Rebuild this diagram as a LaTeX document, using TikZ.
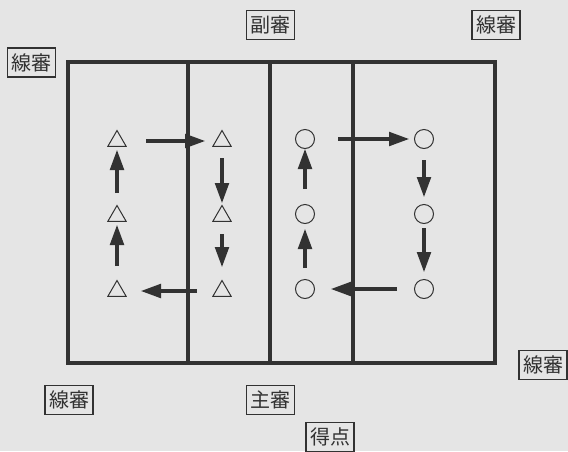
\documentclass[tikz,border=0pt]{standalone}
\usepackage{fontspec}
\newfontfamily\cjk{Noto Sans CJK JP}
\usetikzlibrary{arrows.meta,shapes.geometric}
\definecolor{bg}{RGB}{229,229,229}
\definecolor{ink}{RGB}{50,50,50}
\tikzset{
  lbl/.style={draw=ink, line width=1.1pt, fill=bg, text=ink, font=\cjk\fontsize{20}{20}\selectfont,
    minimum width=48pt, minimum height=29pt, inner sep=1pt},
  tri/.style={regular polygon, regular polygon sides=3, draw=ink, line width=1pt,
    minimum size=21pt, inner sep=0pt},
  circ/.style={circle, draw=ink, line width=1pt, minimum size=19pt, inner sep=0pt},
  mv/.style={draw=ink, line width=4.8pt, -{Triangle[length=21pt,width=13pt]}},
  court/.style={draw=ink, line width=3.8pt}
}
\begin{document}
\begin{tikzpicture}[x=1pt,y=-1pt]
\fill[bg] (0,0) rectangle (568,451);
\useasboundingbox (0,0) rectangle (568,451);
% court
\draw[court] (68,62) rectangle (495,363);
\draw[court] (188,62) -- (188,363);
\draw[court] (270,62) -- (270,363);
\draw[court] (353,62) -- (353,363);
% players
\node[tri] (t1) at (117,141) {};
\node[tri] (t2) at (117,216) {};
\node[tri] (t3) at (117,291) {};
\node[tri] (t4) at (222,141) {};
\node[tri] (t5) at (222,216) {};
\node[tri] (t6) at (222,291) {};
\node[circ] (c1) at (305,139) {};
\node[circ] (c2) at (305,214) {};
\node[circ] (c3) at (305,289) {};
\node[circ] (c4) at (424,139) {};
\node[circ] (c5) at (424,214) {};
\node[circ] (c6) at (424,289) {};
% rotation arrows
\draw[mv, shorten <=29pt, shorten >=16pt] (t1.center) -- (t4.center);
\draw[mv, shorten <=17pt, shorten >=12pt] (t4.center) -- (t5.center);
\draw[mv, shorten <=18pt, shorten >=23pt] (t5.center) -- (t6.center);
\draw[mv, shorten <=25pt, shorten >=23pt] (t6.center) -- (t3.center);
\draw[mv, shorten <=25pt, shorten >=8pt] (t3.center) -- (t2.center);
\draw[mv, shorten <=23pt, shorten >=8pt] (t2.center) -- (t1.center);
\draw[mv, shorten <=33pt, shorten >=14pt] (c1.center) -- (c4.center);
\draw[mv, shorten <=21pt, shorten >=16pt] (c4.center) -- (c5.center);
\draw[mv, shorten <=14pt, shorten >=16pt] (c5.center) -- (c6.center);
\draw[mv, shorten <=27pt, shorten >=25pt] (c6.center) -- (c3.center);
\draw[mv, shorten <=21pt, shorten >=14pt] (c3.center) -- (c2.center);
\draw[mv, shorten <=25pt, shorten >=9pt] (c2.center) -- (c1.center);
% officials
\node[lbl] (ln1) at (31.5,62.5) {線審};
\node[lbl] (sub) at (270.5,25) {副審};
\node[lbl] (ln2) at (496,25) {線審};
\node[lbl] (ln3) at (543,365) {線審};
\node[lbl] (ln4) at (69,400) {線審};
\node[lbl] (ref) at (270.5,400) {主審};
\node[lbl] (score) at (330,437) {得点};
\end{tikzpicture}
\end{document}
